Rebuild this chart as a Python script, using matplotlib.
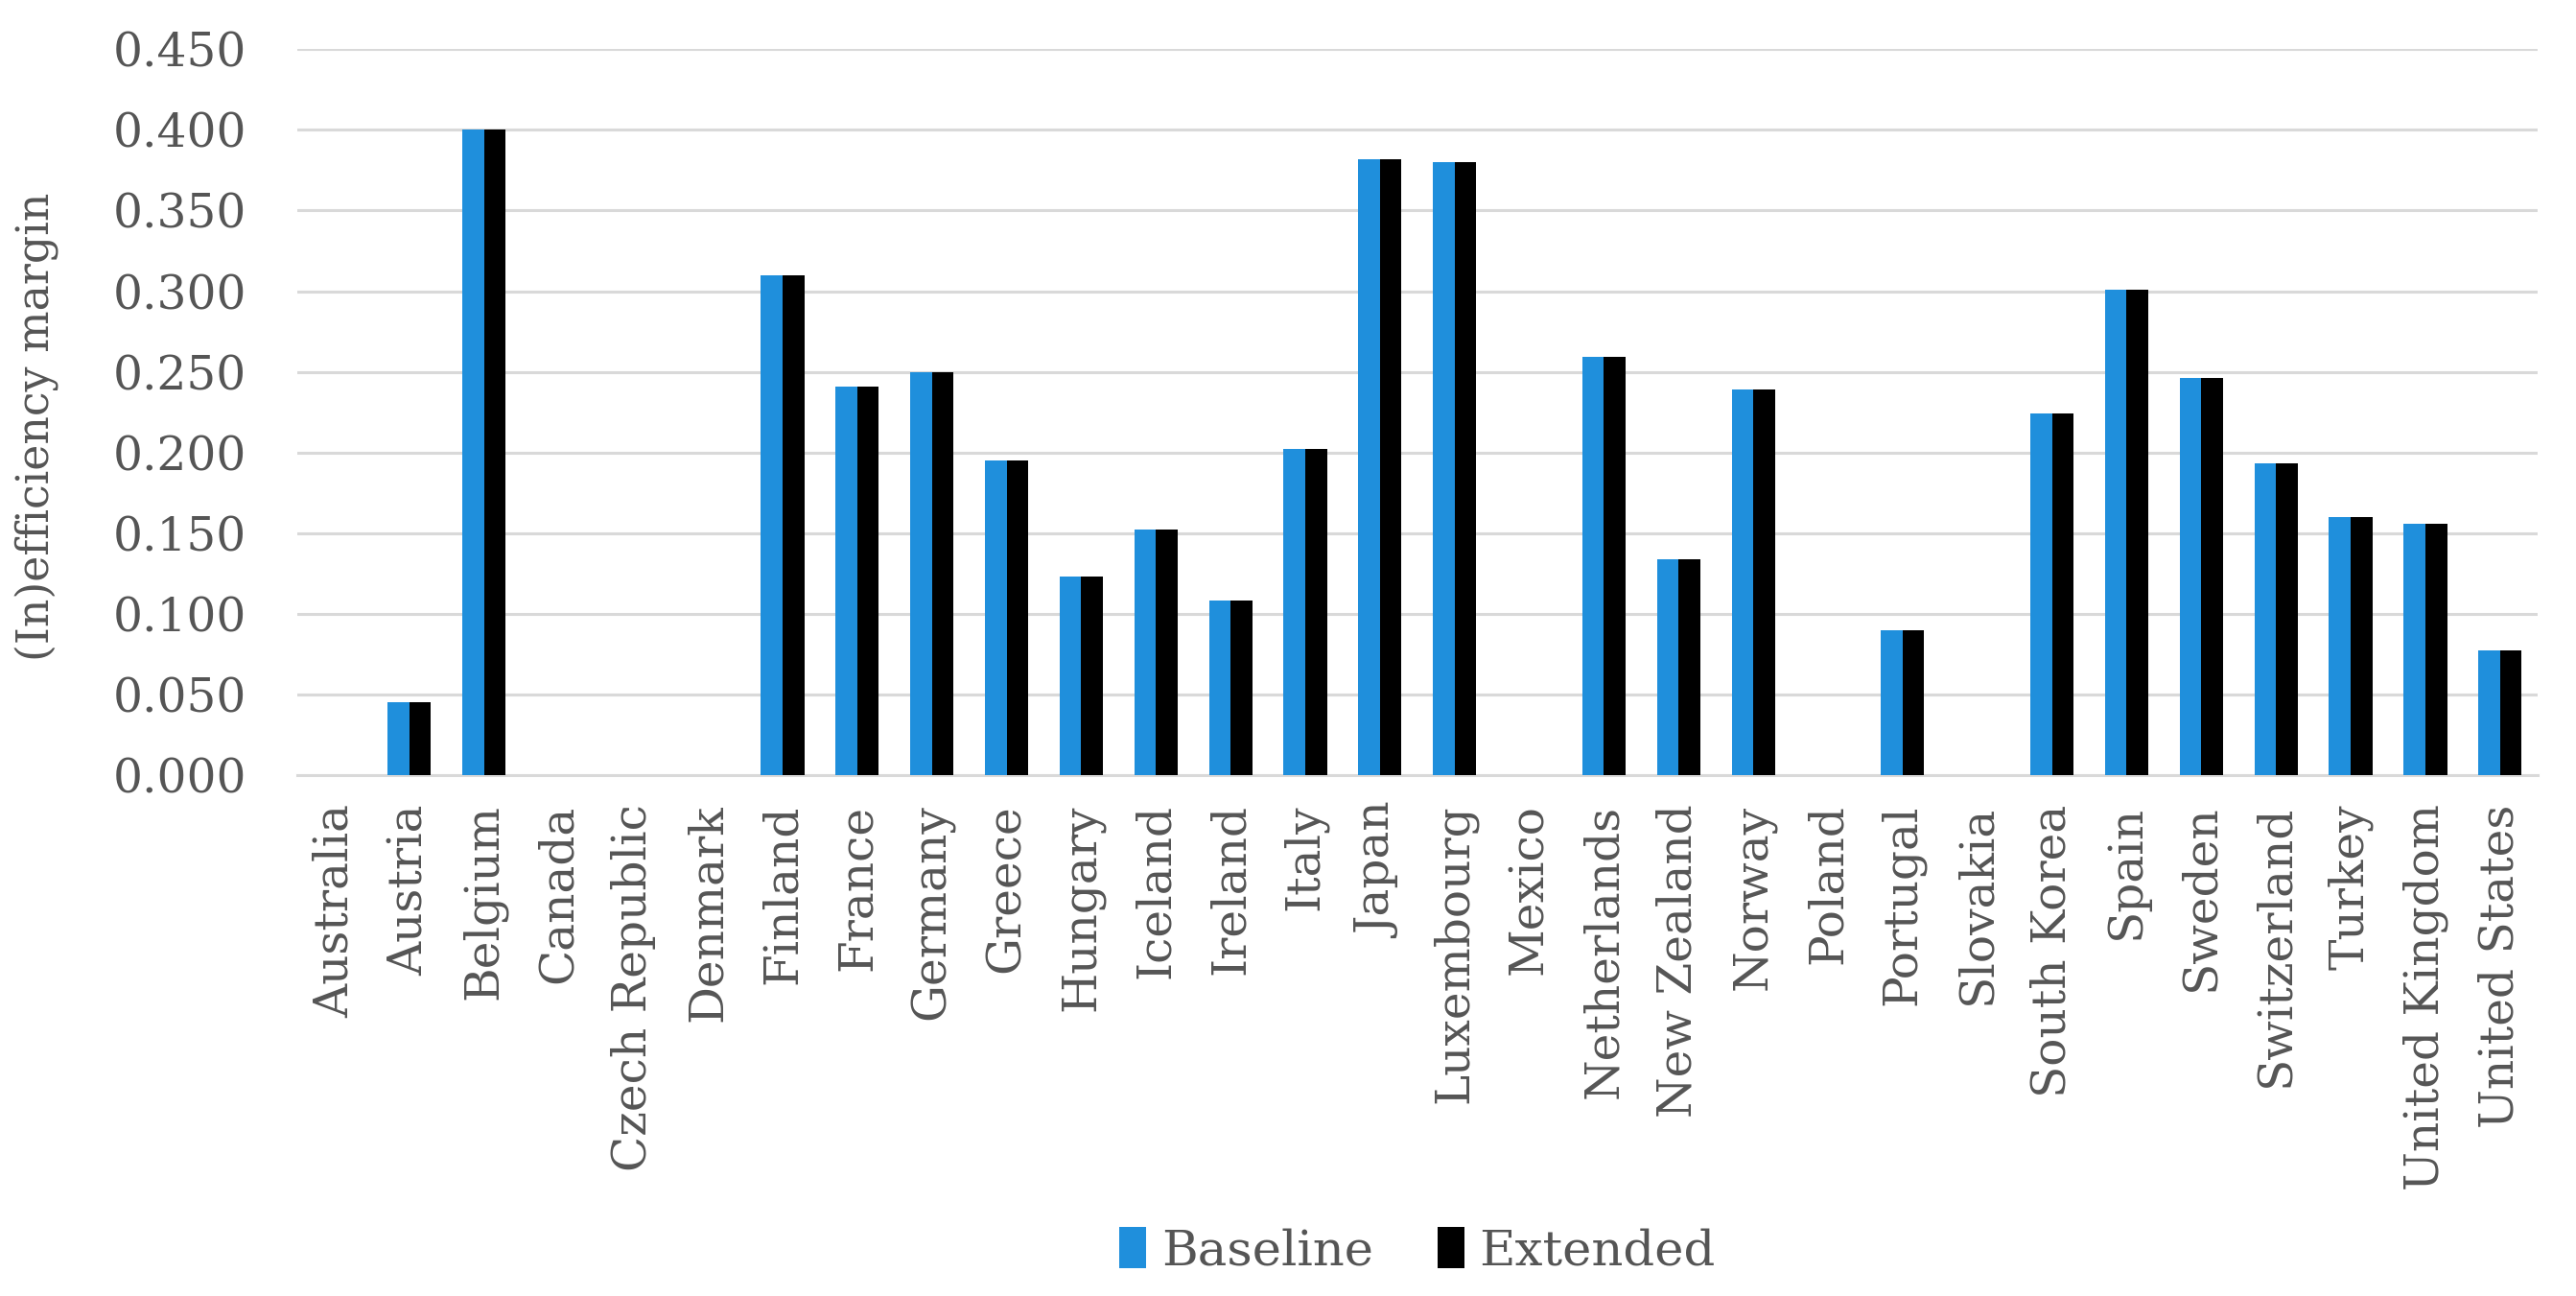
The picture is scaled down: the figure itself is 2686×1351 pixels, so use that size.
import matplotlib.pyplot as plt
import numpy as np

countries = [
    "Australia", "Austria", "Belgium", "Canada", "Czech Republic", "Denmark",
    "Finland", "France", "Germany", "Greece", "Hungary", "Iceland", "Ireland",
    "Italy", "Japan", "Luxembourg", "Mexico", "Netherlands", "New Zealand",
    "Norway", "Poland", "Portugal", "Slovakia", "South Korea", "Spain",
    "Sweden", "Switzerland", "Turkey", "United Kingdom", "United States",
]
baseline = [
    0.000, 0.045, 0.400, 0.000, 0.000, 0.000,
    0.310, 0.241, 0.250, 0.195, 0.123, 0.152, 0.108,
    0.202, 0.382, 0.380, 0.000, 0.259, 0.134,
    0.239, 0.000, 0.090, 0.000, 0.224, 0.301,
    0.246, 0.193, 0.160, 0.156, 0.077,
]
extended = [
    0.000, 0.045, 0.400, 0.000, 0.000, 0.000,
    0.310, 0.241, 0.250, 0.195, 0.123, 0.152, 0.108,
    0.202, 0.382, 0.380, 0.000, 0.259, 0.134,
    0.239, 0.000, 0.090, 0.000, 0.224, 0.301,
    0.246, 0.193, 0.160, 0.156, 0.077,
]
yticks = [0.0, 0.05, 0.10, 0.15, 0.20, 0.25, 0.30, 0.35, 0.40, 0.45]

text_color = "#555555"
plt.rcParams["font.family"] = ["DejaVu Serif"]

fig = plt.figure(figsize=(26.86, 13.51), dpi=100)
ax = fig.add_axes([0.1154, 0.402, 0.8696, 0.560])

x = np.arange(len(countries))
w = 0.29
ax.bar(x - w / 2, baseline, width=w, color="#1f8fdc", label="Baseline", zorder=3)
ax.bar(x + w / 2, extended, width=w, color="#000000", label="Extended", zorder=3)

ax.set_xlim(-0.5, len(countries) - 0.5)
ax.set_ylim(0, 0.45)
ax.set_yticks(yticks)
ax.set_yticklabels([f"{v:.3f}" for v in yticks], fontsize=35, color=text_color)
ax.set_xticks(x)
ax.set_xticklabels(countries, rotation=90, fontsize=35, color=text_color)
ax.tick_params(axis="both", length=0)
ax.tick_params(axis="x", pad=22)
ax.tick_params(axis="y", pad=38)

ax.grid(axis="y", color="#d9d9d9", linewidth=2.2, zorder=0)
for side in ["top", "right", "left"]:
    ax.spines[side].set_visible(False)
ax.spines["bottom"].set_color("#d9d9d9")
ax.spines["bottom"].set_linewidth(2.2)

ax.set_ylabel("(In)efficiency margin", fontsize=33, color=text_color)
ax.yaxis.set_label_coords(-0.106, 0.48)

leg = ax.legend(loc="center", bbox_to_anchor=(0.5, -0.656), ncol=2, frameon=False,
                fontsize=37, handlelength=0.55, handleheight=0.9, handletextpad=0.3,
                columnspacing=1.3)
for t in leg.get_texts():
    t.set_color(text_color)

fig.savefig("out.png", dpi=100)
